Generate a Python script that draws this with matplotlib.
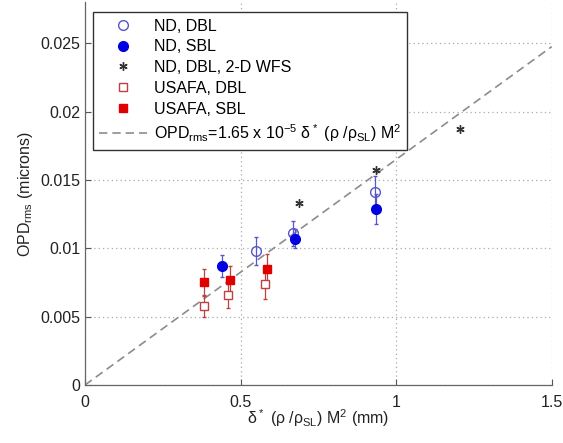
import matplotlib
matplotlib.use("Agg")
import matplotlib.pyplot as plt
import numpy as np
from matplotlib.lines import Line2D

plt.rcParams['font.family'] = ['Liberation Sans', 'DejaVu Sans']
plt.rcParams['mathtext.fontset'] = 'custom'
plt.rcParams['mathtext.rm'] = 'Liberation Sans'
plt.rcParams['mathtext.it'] = 'Liberation Sans'
plt.rcParams['mathtext.sf'] = 'Liberation Sans'

# ND, DBL (open circles)
nd_dbl_x = [0.55, 0.668, 0.932]
nd_dbl_y = [0.0098, 0.0111, 0.0141]
nd_dbl_err = [0.0010, 0.0009, 0.0012]

# ND, SBL (filled circles)
nd_sbl_x = [0.44, 0.675, 0.936]
nd_sbl_y = [0.0087, 0.0107, 0.0129]
nd_sbl_err = [0.0008, 0.0007, 0.0011]

# ND, DBL, 2-D WFS (asterisks)
wfs_x = [0.688, 0.935, 1.205]
wfs_y = [0.0133, 0.0157, 0.0187]

# USAFA, DBL (open squares)
us_dbl_x = [0.382, 0.46, 0.578]
us_dbl_y = [0.0058, 0.0066, 0.0074]
us_dbl_err = [0.0008, 0.0010, 0.0011]

# USAFA, SBL (filled squares)
us_sbl_x = [0.383, 0.466, 0.585]
us_sbl_y = [0.0075, 0.0077, 0.0085]
us_sbl_err = [0.0010, 0.0010, 0.0011]

# Scaling law: OPD_rms = 1.65e-5 * delta* (rho/rho_SL) M^2, delta in mm -> OPD in microns
coef = 1.65e-5
fit_x = np.array([0.0, 1.5])
fit_y = coef * fit_x * 1e-3 * 1e6

fig = plt.figure(figsize=(5.63, 4.43), dpi=100)
ax = fig.add_axes([0.151, 0.131, 0.829, 0.864])

blue = '#0000e0'
blue_open = '#5555cc'
red = '#e00000'
red_open = '#c04040'
star_marker = (6, 2, 0)

ax.plot(fit_x, fit_y, '--', color='#8c8c8c', lw=1.2, dashes=(5, 3), zorder=1)

ax.errorbar(us_dbl_x, us_dbl_y, yerr=us_dbl_err, fmt='s', ms=6, mfc='white',
            mec=red_open, mew=1.0, ecolor=red_open, elinewidth=0.9, capsize=1.2, zorder=3)
ax.errorbar(us_sbl_x, us_sbl_y, yerr=us_sbl_err, fmt='s', ms=6, mfc=red,
            mec=red, ecolor=red_open, elinewidth=0.9, capsize=1.2, zorder=3)
ax.errorbar(nd_dbl_x, nd_dbl_y, yerr=nd_dbl_err, fmt='o', ms=7, mfc='none',
            mec=blue_open, mew=1.0, ecolor=blue_open, elinewidth=0.9, capsize=1.2, zorder=3)
ax.errorbar(nd_sbl_x, nd_sbl_y, yerr=nd_sbl_err, fmt='o', ms=7, mfc=blue,
            mec=blue, ecolor=blue_open, elinewidth=0.9, capsize=1.2, zorder=4)
ax.plot(wfs_x, wfs_y, marker=star_marker, color='#333333', ms=6, mew=1.0, ls='none', zorder=5)

ax.set_xlim(0, 1.5)
ax.set_ylim(0, 0.028)
ax.set_xticks([0, 0.5, 1, 1.5])
ax.set_xticklabels(['0', '0.5', '1', '1.5'])
ax.set_yticks([0, 0.005, 0.01, 0.015, 0.02, 0.025])
ax.set_yticklabels(['0', '0.005', '0.01', '0.015', '0.02', '0.025'])
ax.tick_params(direction='in', length=4, labelsize=11.5, colors='#555555',
               labelcolor='#222222', width=0.8)
ax.tick_params(axis='x', pad=7)
for s in ['top', 'right']:
    ax.spines[s].set_visible(False)
for s in ['left', 'bottom']:
    ax.spines[s].set_color('#666666')
    ax.spines[s].set_linewidth(0.9)
ax.grid(True, ls=(0, (1, 2.5)), color='#aaaaaa', lw=0.9)
ax.set_axisbelow(True)

ax.set_xlabel(r'$\delta^*$ ($\rho$ /$\rho_{\rm SL}$) M$^2$ (mm)', fontsize=11.5,
              color='#222222', labelpad=-2)
ax.set_ylabel(r'OPD$_{\rm rms}$ (microns)', fontsize=11.5, color='#222222', labelpad=4)

handles = [
    Line2D([], [], marker='o', ls='none', mfc='white', mec=blue_open, ms=7, mew=1.0),
    Line2D([], [], marker='o', ls='none', mfc=blue, mec=blue, ms=7),
    Line2D([], [], marker=star_marker, ls='none', color='#333333', ms=6, mew=1.0),
    Line2D([], [], marker='s', ls='none', mfc='white', mec=red_open, ms=6, mew=1.0),
    Line2D([], [], marker='s', ls='none', mfc=red, mec=red, ms=6),
    Line2D([], [], ls='--', color='#8c8c8c', lw=1.2, dashes=(5, 3)),
]
labels = ['ND, DBL', 'ND, SBL', 'ND, DBL, 2-D WFS', 'USAFA, DBL', 'USAFA, SBL',
          r'OPD$_{\rm rms}$=1.65 x 10$^{-5}$ $\delta^*$ ($\rho$ /$\rho_{\rm SL}$) M$^2$']
leg = ax.legend(handles, labels, loc='upper left', bbox_to_anchor=(0.017, 0.974),
                borderaxespad=0, fontsize=11.5, handlelength=3.0, handletextpad=0.4,
                labelspacing=0.36, fancybox=False, framealpha=1, edgecolor='#333333',
                borderpad=0.4)
leg.get_frame().set_linewidth(1.0)

fig.savefig('out.png', dpi=100)
